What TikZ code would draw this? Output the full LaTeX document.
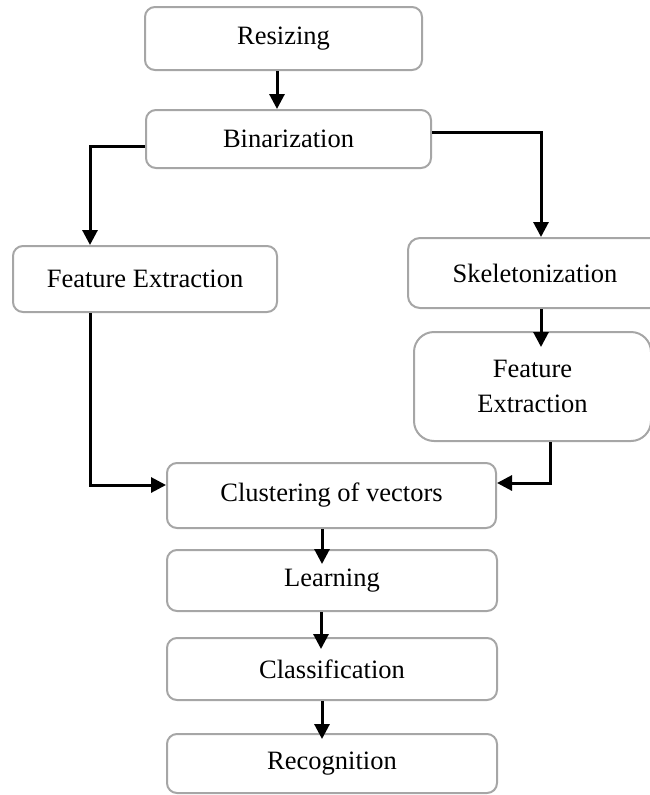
\documentclass[tikz,border=0pt]{standalone}
\usepackage{fontspec}
\setmainfont{Liberation Serif}
\usetikzlibrary{arrows.meta}
\definecolor{boxgray}{HTML}{A6A6A6}
\begin{document}
\begin{tikzpicture}[x=1pt,y=-1pt,
  box/.style={draw=boxgray,line width=2pt,rounded corners=10pt,
    font=\fontsize{26.5}{35}\selectfont,inner sep=0pt,align=center},
  arr/.style={line width=3pt,-{Triangle[width=15pt,length=15pt]}}]
\useasboundingbox (0,0) rectangle (650,795);
% boxes
\node[box,minimum width=277pt,minimum height=63pt] (res) at (283.5,38.5) {Resizing};
\node[box,minimum width=285pt,minimum height=58pt] (bin) at (288.5,139) {Binarization};
\node[box,minimum width=264pt,minimum height=66pt] (fe1) at (145,279) {Feature Extraction};
\node[box,minimum width=254pt,minimum height=70pt,rounded corners=12pt] (skel) at (535,273) {Skeletonization};
\node[box,minimum width=237pt,minimum height=109pt,rounded corners=20pt] (fe2) at (532.5,386.5) {Feature\\Extraction};
\node[box,minimum width=329pt,minimum height=65pt] (clu) at (331.5,495.5) {Clustering of vectors};
\node[box,minimum width=330pt,minimum height=61pt] (lea) at (332,580.5) {Learning};
\node[box,minimum width=330pt,minimum height=62pt] (cla) at (332,669) {Classification};
\node[box,minimum width=330pt,minimum height=59pt] (rec) at (332,763.5) {Recognition};
% connectors
\draw[arr] ([xshift=-6.5pt]res.south) -- ([xshift=-6.5pt]res.south |- bin.north);
\draw[arr] ([yshift=-7pt]bin.west) -| ([xshift=-55pt]fe1.north);
\draw[arr] ([yshift=7pt]bin.east) -| ([xshift=6pt]skel.north);
\draw[arr] ([xshift=6pt]skel.south) -- ([xshift=6pt,yshift=-16pt]skel.south |- fe2.north);
\draw[arr] ([xshift=-55pt]fe1.south) |- ([yshift=10.5pt]clu.west);
\draw[arr] ([xshift=17.5pt]fe2.south) |- ([yshift=12.5pt]clu.east);
\draw[arr] ([xshift=-9.5pt]clu.south) -- ([xshift=-9.5pt,yshift=-15pt]clu.south |- lea.north);
\draw[arr] ([xshift=-11pt]lea.south) -- ([xshift=-11pt,yshift=-12pt]lea.south |- cla.north);
\draw[arr] ([xshift=-10pt]cla.south) -- ([xshift=-10pt,yshift=-6pt]cla.south |- rec.north);
\end{tikzpicture}
\end{document}
